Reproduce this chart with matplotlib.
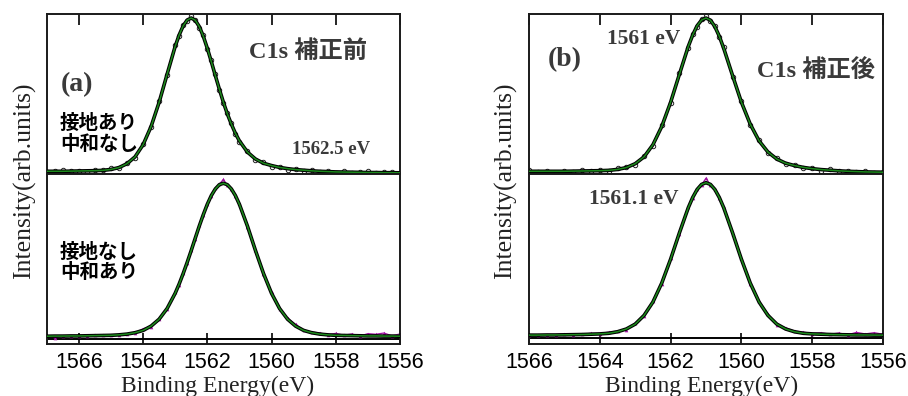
"""XPS C1s spectra before/after charge correction (two panels, stacked spectra)."""
import matplotlib
matplotlib.use("Agg")
import matplotlib.pyplot as plt

W, H = 908, 396

# ---- panel (a): before correction ----
energy_a = [1567.0, 1566.75, 1566.5, 1566.25, 1566.0, 1565.75, 1565.5, 1565.25,
            1565.0, 1564.75, 1564.5, 1564.25, 1564.0, 1563.75, 1563.5, 1563.25,
            1563.0, 1562.875, 1562.75, 1562.625, 1562.5, 1562.375, 1562.25, 1562.125,
            1562.0, 1561.875, 1561.75, 1561.625, 1561.5, 1561.375, 1561.25, 1561.125,
            1561.0,
            1560.75, 1560.5, 1560.25, 1560.0, 1559.75, 1559.5, 1559.25, 1559.0,
            1558.75, 1558.5, 1558.25, 1558.0, 1557.75, 1557.5, 1557.25, 1557.0,
            1556.75, 1556.5, 1556.25, 1556.0]
# grounded, no neutraliser (upper)
fit_a_top = [0.011, 0.011, 0.011, 0.012, 0.013, 0.014, 0.015, 0.017,
             0.023, 0.035, 0.060, 0.104, 0.182, 0.300, 0.456, 0.638,
             0.817, 0.891, 0.950, 0.987, 1.000, 0.986, 0.945, 0.883,
             0.805, 0.719, 0.629, 0.541, 0.457, 0.381, 0.315, 0.256,
             0.207,
             0.135, 0.090, 0.063, 0.048, 0.036, 0.028, 0.022, 0.018,
             0.014, 0.011, 0.009, 0.007, 0.006, 0.005, 0.004, 0.003,
             0.003, 0.002, 0.002, 0.001]
meas_a_top = [0.004, 0.012, 0.018, 0.010, 0.016, 0.008, 0.019, 0.022,
              0.030, 0.031, 0.066, 0.099, 0.190, 0.294, 0.465, 0.631,
              0.826, 0.884, 0.957, 0.982, 1.012, 0.990, 0.938, 0.892,
              0.797, 0.726, 0.636, 0.534, 0.449, 0.388, 0.322, 0.250,
              0.200,
              0.141, 0.084, 0.069, 0.041, 0.040, 0.022, 0.027, 0.012,
              0.019, 0.006, 0.014, 0.003, 0.011, 0.000, 0.009, 0.012,
              -0.002, 0.008, 0.006, -0.004]
# no ground, neutraliser on (lower)
fit_a_bot = [0.003, 0.004, 0.004, 0.005, 0.005, 0.006, 0.007, 0.008,
             0.009, 0.012, 0.017, 0.026, 0.041, 0.069, 0.114, 0.184,
             0.283, 0.344, 0.412, 0.485, 0.562, 0.642, 0.721, 0.795,
             0.863, 0.920, 0.963, 0.991, 1.000, 0.991, 0.963, 0.920,
             0.863,
             0.721, 0.562, 0.412, 0.283, 0.184, 0.114, 0.069, 0.041,
             0.026, 0.017, 0.012, 0.009, 0.008, 0.007, 0.006, 0.005,
             0.005, 0.004, 0.004, 0.003]
meas_a_bot = [0.010, -0.008, 0.005, 0.004, 0.003, 0.006, 0.014, 0.008,
              0.009, 0.010, 0.016, 0.024, 0.052, 0.066, 0.118, 0.180,
              0.290, 0.340, 0.418, 0.480, 0.566, 0.638, 0.726, 0.792,
              0.867, 0.916, 0.968, 0.994, 1.025, 0.988, 0.966, 0.915,
              0.869,
              0.716, 0.567, 0.408, 0.291, 0.178, 0.120, 0.080, 0.044,
              0.030, 0.025, 0.012, 0.022, 0.010, 0.018, 0.004, 0.020,
              0.016, 0.024, 0.006, 0.018]

# ---- panel (b): after correction ----
energy_b = [1566.0, 1565.75, 1565.5, 1565.25, 1565.0, 1564.75, 1564.5, 1564.25,
            1564.0, 1563.75, 1563.5, 1563.25, 1563.0, 1562.75, 1562.5, 1562.25,
            1562.0, 1561.75,
            1561.5, 1561.375, 1561.25, 1561.125, 1561.0, 1560.875, 1560.75, 1560.625,
            1560.5,
            1560.25, 1560.0, 1559.75, 1559.5, 1559.25, 1559.0, 1558.75, 1558.5,
            1558.25, 1558.0, 1557.75, 1557.5, 1557.25, 1557.0, 1556.75, 1556.5,
            1556.25, 1556.0]
fit_b_top = [0.011, 0.011, 0.011, 0.011, 0.011, 0.012, 0.013, 0.014,
             0.015, 0.017, 0.023, 0.035, 0.060, 0.104, 0.182, 0.300,
             0.456, 0.638,
             0.817, 0.891, 0.950, 0.987, 1.000, 0.986, 0.945, 0.883,
             0.805,
             0.629, 0.457, 0.315, 0.207, 0.135, 0.090, 0.063, 0.048,
             0.036, 0.028, 0.022, 0.018, 0.014, 0.011, 0.009, 0.007,
             0.006, 0.005]
meas_b_top = [0.018, 0.006, 0.012, 0.003, 0.014, 0.009, 0.017, 0.011,
              0.020, 0.013, 0.029, 0.040, 0.054, 0.110, 0.176, 0.307,
              0.449, 0.645,
              0.809, 0.897, 0.944, 0.993, 1.010, 0.980, 0.951, 0.876,
              0.812,
              0.622, 0.463, 0.309, 0.214, 0.129, 0.096, 0.057, 0.052,
              0.030, 0.033, 0.016, 0.023, 0.010, 0.016, 0.004, 0.012,
              0.001, 0.008]
fit_b_bot = [0.004, 0.004, 0.005, 0.005, 0.006, 0.007, 0.008, 0.010,
             0.012, 0.016, 0.026, 0.044, 0.076, 0.133, 0.220, 0.344,
             0.500, 0.673,
             0.837, 0.904, 0.956, 0.989, 1.000, 0.989, 0.956, 0.904,
             0.837,
             0.673, 0.500, 0.344, 0.220, 0.133, 0.076, 0.044, 0.026,
             0.016, 0.012, 0.010, 0.008, 0.007, 0.006, 0.005, 0.005,
             0.004, 0.004]
meas_b_bot = [0.003, 0.006, 0.004, 0.007, 0.012, 0.006, 0.009, 0.016,
              0.014, 0.024, 0.030, 0.040, 0.082, 0.128, 0.226, 0.338,
              0.506, 0.668,
              0.842, 0.899, 0.962, 0.986, 1.030, 0.984, 0.960, 0.898,
              0.842,
              0.668, 0.506, 0.336, 0.226, 0.140, 0.072, 0.052, 0.030,
              0.024, 0.014, 0.020, 0.010, 0.018, 0.006, 0.022, 0.012,
              0.020, 0.010]

xticks = [1566, 1564, 1562, 1560, 1558, 1556]

SERIF = ["Liberation Serif", "Noto Sans CJK JP"]
CJK = ["Noto Sans CJK JP", "DejaVu Sans"]
GREEN = "#1c8a1c"
MAGENTA = "#a010a0"
TXT = "#3a3a3a"


def fx(x):
    return x / W


def fy(y):
    return 1 - y / H


def draw_curve(ax, e, fit, meas, kind):
    if kind == "top":
        ax.plot(e, meas, ls="none", marker="o", ms=3.2, mfc="none",
                mec="#222222", mew=0.7, zorder=2)
    else:
        ax.plot(e, meas, color=MAGENTA, lw=0.9, marker="^", ms=2.6,
                mew=0, zorder=2)
    ax.plot(e, fit, color="black", lw=2.6, zorder=3, solid_capstyle="round")
    ax.plot(e, fit, color=GREEN, lw=1.1, zorder=4)


def make_panel(fig, left_px, right_px, xlim, e, top_fit, top_meas, bot_fit, bot_meas,
               bot_ylim):
    left, width = fx(left_px), (right_px - left_px) / W
    ax_t = fig.add_axes([left, fy(174), width, (174 - 14) / H])
    ax_b = fig.add_axes([left, fy(344), width, (344 - 174) / H])
    draw_curve(ax_t, e, top_fit, top_meas, "top")
    draw_curve(ax_b, e, bot_fit, bot_meas, "bot")
    ax_b.axhline(-0.017, color="black", lw=1.4, zorder=1)
    for ax in (ax_t, ax_b):
        ax.set_xlim(*xlim)
        ax.set_xticks(xticks)
        ax.set_yticks([])
        for s in ax.spines.values():
            s.set_linewidth(1.4)
            s.set_color("#1a1a1a")
    ax_t.set_ylim(-0.0065, 1.026)
    ax_b.set_ylim(*bot_ylim)
    ax_t.tick_params(axis="x", direction="in", top=True, bottom=False,
                     labelbottom=False, length=8, width=1.2)
    ax_b.tick_params(axis="x", direction="in", top=False, bottom=True,
                     length=8, width=1.2, pad=6, labelsize=15.5)
    for lab in ax_b.get_xticklabels():
        lab.set_fontfamily("Liberation Sans")
    return ax_t, ax_b


fig = plt.figure(figsize=(W / 100, H / 100), dpi=100)

make_panel(fig, 46.7, 400, (1567, 1556), energy_a, fit_a_top, meas_a_top,
           fit_a_bot, meas_a_bot, (-0.0476, 1.0606))
make_panel(fig, 529, 883, (1566, 1556), energy_b, fit_b_top, meas_b_top,
           fit_b_bot, meas_b_bot, (-0.054, 1.057))

# axis titles
for xc in (24, 505):
    fig.text(fx(xc), fy(181), "Intensity(arb.units)", rotation=90, ha="center",
             va="center", fontsize=18.5, family=SERIF, color="#222222")
for xc in (217.5, 701.5):
    fig.text(fx(xc), fy(386), "Binding Energy(eV)", ha="center", va="center",
             fontsize=17, family=SERIF, color="#222222")

# panel (a) annotations
fig.text(fx(77.5), fy(84.5), "(a)", ha="center", va="center", fontsize=20,
         family=SERIF, weight="bold", color=TXT)
fig.text(fx(308), fy(52), "C1s 補正前", ha="center", va="center", fontsize=17.5,
         family=SERIF, weight="bold", color=TXT)
fig.text(fx(331), fy(150), "1562.5 eV", ha="center", va="center", fontsize=13.5,
         family=SERIF, weight="bold", color=TXT)
fig.text(fx(60), fy(123), "接地あり", ha="left", va="center", fontsize=14,
         family=CJK, weight="bold", color="black")
fig.text(fx(60), fy(145), "中和なし", ha="left", va="center", fontsize=14,
         family=CJK, weight="bold", color="black")
fig.text(fx(60), fy(252), "接地なし", ha="left", va="center", fontsize=14,
         family=CJK, weight="bold", color="black")
fig.text(fx(60), fy(272), "中和あり", ha="left", va="center", fontsize=14,
         family=CJK, weight="bold", color="black")

# panel (b) annotations
fig.text(fx(565), fy(60), "(b)", ha="center", va="center", fontsize=20,
         family=SERIF, weight="bold", color=TXT)
fig.text(fx(644), fy(39.5), "1561 eV", ha="center", va="center", fontsize=15.5,
         family=SERIF, weight="bold", color=TXT)
fig.text(fx(816), fy(71), "C1s 補正後", ha="center", va="center", fontsize=17.5,
         family=SERIF, weight="bold", color=TXT)
fig.text(fx(634), fy(199.5), "1561.1 eV", ha="center", va="center", fontsize=15.5,
         family=SERIF, weight="bold", color=TXT)

fig.savefig("out.png", dpi=100)
